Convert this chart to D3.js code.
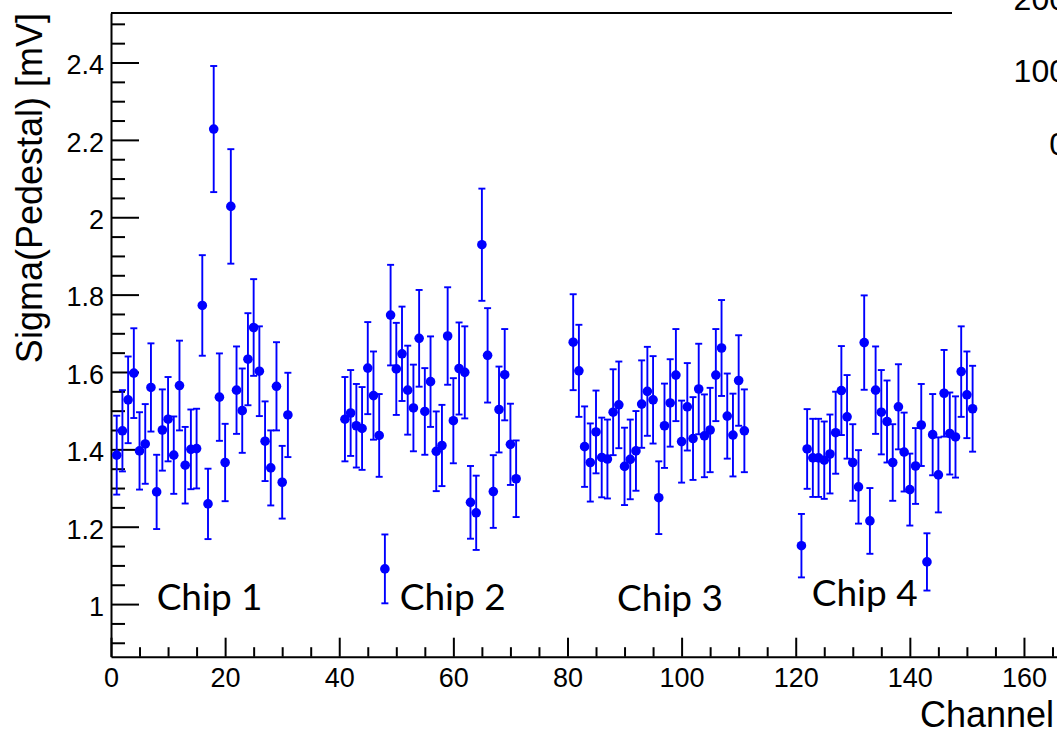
<!DOCTYPE html>
<html>
<head>
<meta charset="utf-8">
<script src="https://cdn.jsdelivr.net/npm/d3@7"></script>
<style>
  html, body { margin: 0; padding: 0; background: #fff; overflow: hidden; }
  svg { display: block; }
</style>
</head>
<body>
<svg id="chart" width="1057" height="730"></svg>
<script>
// ---------------- data ----------------
const chip1Channels = [1,2,3,4,5,6,7,8,9,10,11,12,13,14,15,16,17,18,19,20,21,22,23,24,25,26,27,28,29,30,31];
const chip1Sigma = [1.385,1.448,1.528,1.597,1.396,1.414,1.560,1.290,1.450,1.478,1.385,1.565,1.359,1.400,1.402,1.772,1.259,2.228,1.535,1.366,2.028,1.553,1.500,1.633,1.715,1.602,1.421,1.352,1.563,1.315,1.489];
const chip1Err   = [0.102,0.105,0.112,0.116,0.100,0.103,0.114,0.096,0.105,0.109,0.100,0.116,0.099,0.103,0.103,0.130,0.091,0.163,0.113,0.100,0.148,0.113,0.109,0.119,0.125,0.116,0.103,0.097,0.114,0.094,0.109];

const chip2Channels = [41,42,43,44,45,46,47,48,49,50,51,52,53,54,55,56,57,58,59,60,61,62,63,64,65,66,67,68,69,70,71];
const chip2Sigma = [1.478,1.494,1.461,1.454,1.610,1.539,1.436,1.091,1.747,1.608,1.647,1.553,1.507,1.687,1.498,1.575,1.395,1.410,1.693,1.474,1.609,1.599,1.263,1.236,1.929,1.643,1.291,1.503,1.593,1.413,1.324];
const chip2Err   = [0.109,0.111,0.108,0.107,0.119,0.114,0.107,0.089,0.130,0.119,0.122,0.115,0.112,0.125,0.112,0.117,0.103,0.105,0.126,0.110,0.119,0.119,0.094,0.096,0.145,0.122,0.094,0.111,0.118,0.105,0.099];

const chip3Channels = [81,82,83,84,85,86,87,88,89,90,91,92,93,94,95,96,97,98,99,100,101,102,103,104,105,106,107,108,109,110,111];
const chip3Sigma = [1.677,1.603,1.407,1.366,1.445,1.379,1.375,1.496,1.515,1.356,1.374,1.396,1.517,1.550,1.528,1.275,1.461,1.520,1.592,1.420,1.510,1.428,1.556,1.435,1.450,1.592,1.662,1.486,1.437,1.578,1.448];
const chip3Err   = [0.124,0.119,0.104,0.101,0.107,0.103,0.102,0.111,0.112,0.100,0.103,0.103,0.113,0.115,0.113,0.094,0.109,0.113,0.119,0.106,0.113,0.107,0.117,0.107,0.109,0.119,0.124,0.110,0.107,0.117,0.107];

const chip4Channels = [121,122,123,124,125,126,127,128,129,130,131,132,133,134,135,136,137,138,139,140,141,142,143,144,145,146,147,148,149,150,151];
const chip4Sigma = [1.151,1.401,1.378,1.378,1.372,1.388,1.443,1.552,1.484,1.366,1.303,1.676,1.215,1.553,1.496,1.472,1.366,1.510,1.393,1.296,1.357,1.463,1.109,1.438,1.334,1.545,1.441,1.432,1.601,1.541,1.505];
const chip4Err   = [0.082,0.103,0.101,0.101,0.100,0.102,0.106,0.115,0.108,0.099,0.095,0.122,0.085,0.113,0.109,0.106,0.099,0.110,0.102,0.093,0.098,0.106,0.074,0.105,0.097,0.112,0.106,0.105,0.117,0.112,0.111];

const xTickValues = [0,20,40,60,80,100,120,140,160];
const xTickLabels = ["0","20","40","60","80","100","120","140","160"];
const yTickValues = [1,1.2,1.4,1.6,1.8,2,2.2,2.4];
const yTickLabels = ["1","1.2","1.4","1.6","1.8","2","2.2","2.4"];

const chipLabels = ["Chip 1","Chip 2","Chip 3","Chip 4"];
const chipLabelAt = [[8.0,0.985],[50.6,0.985],[88.7,0.983],[122.8,0.995]]; // [channel, sigma] anchor (left, baseline)

const insetLabels = ["200","100","0"];

const xTitle = "Channel";
const yTitle = "Sigma(Pedestal) [mV]";

// ---------------- layout ----------------
const plotLeft = 111, plotTop = 13, plotBottom = 656.7;
const pxPerChannel = 5.706;
const frameTopEnd = 952;

const svg = d3.select("#chart");

const x = d3.scaleLinear().domain([0, 180]).range([plotLeft, plotLeft + 180 * pxPerChannel]);
const y = d3.scaleLinear().domain([0.864, 2.528]).range([plotBottom, plotTop]);

const tickFont = "'Liberation Sans', Arial, Helvetica, sans-serif";

// frame top line
svg.append("line")
  .attr("x1", plotLeft).attr("x2", frameTopEnd)
  .attr("y1", plotTop).attr("y2", plotTop)
  .attr("stroke", "#000").attr("stroke-width", 2);

// minor ticks
const yMinor = d3.range(0.9, 2.53, 0.05).map(v => +v.toFixed(2)).filter(v => !yTickValues.some(t => Math.abs(t - v) < 1e-6));
const xMinor = d3.range(0, 181, 5).filter(v => v % 20 !== 0);

svg.append("g")
  .attr("transform", `translate(${plotLeft},0)`)
  .call(d3.axisLeft(y).tickValues(yMinor).tickSize(-14).tickFormat(""))
  .call(g => g.select(".domain").remove())
  .call(g => g.selectAll("line").attr("stroke-width", 2));

svg.append("g")
  .attr("transform", `translate(0,${plotBottom})`)
  .call(d3.axisBottom(x).tickValues(xMinor).tickSize(-9.5).tickFormat(""))
  .call(g => g.select(".domain").remove())
  .call(g => g.selectAll("line").attr("stroke-width", 2));

// major axes
const yAxis = svg.append("g")
  .attr("transform", `translate(${plotLeft},0)`)
  .call(d3.axisLeft(y).tickValues(yTickValues).tickSizeInner(-28).tickSizeOuter(0).tickPadding(7)
        .tickFormat((d, i) => yTickLabels[i]));
yAxis.select(".domain").attr("stroke-width", 2);
yAxis.selectAll(".tick line").attr("stroke-width", 2);
yAxis.selectAll(".tick text")
  .attr("font-family", tickFont).attr("font-size", 27).attr("fill", "#000")
  .attr("dy", "0.42em");

const xAxis = svg.append("g")
  .attr("transform", `translate(0,${plotBottom})`)
  .call(d3.axisBottom(x).tickValues(xTickValues).tickSizeInner(-19).tickSizeOuter(0).tickPadding(30)
        .tickFormat((d, i) => xTickLabels[i]));
xAxis.select(".domain").attr("stroke-width", 2);
xAxis.selectAll(".tick line").attr("stroke-width", 2);
xAxis.selectAll(".tick text")
  .attr("font-family", tickFont).attr("font-size", 27).attr("fill", "#000")
  .attr("dy", 0);

// titles
svg.append("text")
  .attr("x", 920).attr("y", 727)
  .attr("font-family", tickFont).attr("font-size", 36).attr("fill", "#000")
  .text(xTitle);

svg.append("text")
  .attr("transform", `translate(41.5,${plotTop}) rotate(-90)`)
  .attr("text-anchor", "end")
  .attr("font-family", tickFont).attr("font-size", 36).attr("fill", "#000")
  .text(yTitle);

// inset partial labels (cut by the image edge, as in the reference)
const insetY = [10, 82, 155];
svg.selectAll(".inset").data(insetLabels).join("text")
  .attr("class", "inset")
  .attr("x", 1067).attr("y", (d, i) => insetY[i])
  .attr("text-anchor", "end")
  .attr("font-family", tickFont).attr("font-size", 32).attr("fill", "#000")
  .text(d => d);

// data points
const points = [];
[[chip1Channels, chip1Sigma, chip1Err],
 [chip2Channels, chip2Sigma, chip2Err],
 [chip3Channels, chip3Sigma, chip3Err],
 [chip4Channels, chip4Sigma, chip4Err]].forEach(([c, s, e]) => {
  c.forEach((ch, i) => points.push({ch, v: s[i], e: e[i]}));
});

const blue = "#0000ff";
const capW = 3.5;
const eg = svg.append("g").attr("stroke", blue).attr("stroke-width", 1.9);
eg.selectAll(".bar").data(points).join("line")
  .attr("x1", d => x(d.ch)).attr("x2", d => x(d.ch))
  .attr("y1", d => y(d.v - d.e)).attr("y2", d => y(d.v + d.e));
eg.selectAll(".capTop").data(points).join("line")
  .attr("x1", d => x(d.ch) - capW).attr("x2", d => x(d.ch) + capW)
  .attr("y1", d => y(d.v + d.e)).attr("y2", d => y(d.v + d.e));
eg.selectAll(".capBot").data(points).join("line")
  .attr("x1", d => x(d.ch) - capW).attr("x2", d => x(d.ch) + capW)
  .attr("y1", d => y(d.v - d.e)).attr("y2", d => y(d.v - d.e));

svg.append("g").selectAll("circle").data(points).join("circle")
  .attr("cx", d => x(d.ch)).attr("cy", d => y(d.v))
  .attr("r", 4.8).attr("fill", blue);

// chip labels
svg.selectAll(".chip").data(chipLabels).join("text")
  .attr("class", "chip")
  .attr("x", (d, i) => x(chipLabelAt[i][0]))
  .attr("y", (d, i) => y(chipLabelAt[i][1]))
  .attr("font-family", "Lato, 'Open Sans', sans-serif")
  .attr("font-size", 37).attr("fill", "#000")
  .text(d => d);
</script>
</body>
</html>
